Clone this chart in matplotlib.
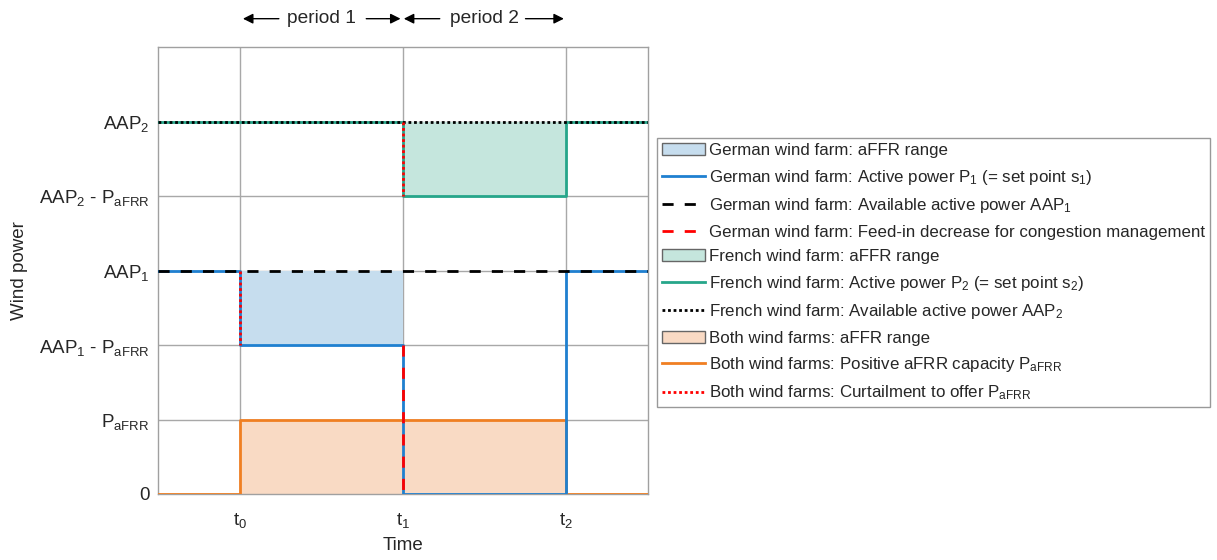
import matplotlib
matplotlib.use("Agg")
import matplotlib.pyplot as plt
from matplotlib.patches import Patch
from matplotlib.lines import Line2D

plt.rcParams['font.family'] = ['Liberation Sans', 'DejaVu Sans']
plt.rcParams['mathtext.fontset'] = 'custom'
plt.rcParams['mathtext.rm'] = 'Liberation Sans'
plt.rcParams['mathtext.it'] = 'Liberation Sans:italic'
plt.rcParams['mathtext.default'] = 'regular'

# ---- data ----
x_ticks = [1, 3, 5]
x_tick_labels = ['t$_0$', 't$_1$', 't$_2$']
y_ticks = [0, 1, 2, 3, 4, 5]
y_tick_labels = ['0', 'P$_{aFRR}$', 'AAP$_1$ - P$_{aFRR}$', 'AAP$_1$',
                 'AAP$_2$ - P$_{aFRR}$', 'AAP$_2$']

x_step = [0, 1, 1, 3, 3, 5, 5, 6]
p1_german = [3, 3, 2, 2, 0, 0, 3, 3]
aap1_german = [3, 3, 3, 3, 3, 3, 3, 3]
p2_french = [5, 5, 5, 5, 4, 4, 5, 5]
aap2_french = [5, 5, 5, 5, 5, 5, 5, 5]
p_afrr = [0, 0, 1, 1, 1, 1, 0, 0]

congestion_x = [3, 3]
congestion_y = [2, 0]
curtail1_x = [1, 1]
curtail1_y = [3, 2]
curtail2_x = [3, 3]
curtail2_y = [5, 4]

german_range_x = [1, 3]
german_range_lo = [2, 2]
german_range_hi = [3, 3]
french_range_x = [3, 5]
french_range_lo = [4, 4]
french_range_hi = [5, 5]
both_range_x = [1, 5]
both_range_lo = [0, 0]
both_range_hi = [1, 1]

legend_labels = [
    'German wind farm: aFFR range',
    'German wind farm: Active power P$_1$ (= set point s$_1$)',
    'German wind farm: Available active power AAP$_1$',
    'German wind farm: Feed-in decrease for congestion management',
    'French wind farm: aFFR range',
    'French wind farm: Active power P$_2$ (= set point s$_2$)',
    'French wind farm: Available active power AAP$_2$',
    'Both wind farms: aFFR range',
    'Both wind farms: Positive aFRR capacity P$_{aFRR}$',
    'Both wind farms: Curtailment to offer P$_{aFRR}$',
]

# ---- styles ----
c_blue = '#1f80d0'
c_green = '#26a68a'
c_orange = '#f07f22'
c_red = '#ff0000'
f_blue = '#c6ddee'
f_green = '#c5e6dd'
f_orange = '#f9dac4'
lw = 2.0

fig = plt.figure(figsize=(12.17, 5.6), dpi=100)
ax = fig.add_axes([158 / 1217, 1 - 494 / 560, (648 - 158) / 1217, (494 - 47) / 560])

ax.fill_between(german_range_x, german_range_lo, german_range_hi, color=f_blue, lw=0, zorder=1)
ax.fill_between(french_range_x, french_range_lo, french_range_hi, color=f_green, lw=0, zorder=1)
ax.fill_between(both_range_x, both_range_lo, both_range_hi, color=f_orange, lw=0, zorder=1)

ax.plot(x_step, p_afrr, color=c_orange, lw=lw, zorder=3)
ax.plot(x_step, p1_german, color=c_blue, lw=lw, zorder=4)
ax.plot(x_step, p2_french, color=c_green, lw=lw, zorder=4)
ax.plot(x_step, aap1_german, color='black', lw=lw, ls=(0, (4, 4)), zorder=5)
ax.plot(x_step, aap2_french, color='black', lw=lw, ls=(0, (1, 1)), zorder=5)
ax.plot(congestion_x, congestion_y, color=c_red, lw=lw, ls=(0, (4, 4)), zorder=6)
ax.plot(curtail1_x, curtail1_y, color=c_red, lw=lw, ls=(0, (1, 1)), zorder=6)
ax.plot(curtail2_x, curtail2_y, color=c_red, lw=lw, ls=(0, (1, 1)), zorder=6)

ax.set_xlim(0, 6)
ax.set_ylim(0, 6)
ax.set_xticks(x_ticks)
ax.set_xticklabels(x_tick_labels)
ax.set_yticks(y_ticks)
ax.set_yticklabels(y_tick_labels)
ax.tick_params(length=0, labelsize=13.5, colors='#262626')
ax.tick_params(axis='x', pad=12)
ax.tick_params(axis='y', pad=6)
ax.grid(True, color='#a8a8a8', lw=1.0, zorder=0)
ax.set_axisbelow(True)
for s in ax.spines.values():
    s.set_color('#a0a0a0')
    s.set_linewidth(1.0)
ax.set_xlabel('Time', fontsize=13.5, color='#262626', labelpad=5)
ax.set_ylabel('Wind power', fontsize=13.5, color='#262626', labelpad=8)

# period annotations
ya = 6.38
arrow_kw = dict(arrowstyle='-|>', color='black', lw=1.0, mutation_scale=15,
                shrinkA=0, shrinkB=0)
for tail, tip in [(1.48, 1.04), (2.55, 2.97), (3.45, 3.01), (4.50, 4.97)]:
    ax.annotate('', xy=(tip, ya), xytext=(tail, ya), arrowprops=arrow_kw,
                annotation_clip=False)
ax.text(2.0, ya, 'period 1', ha='center', va='center', fontsize=13.8, color='#262626')
ax.text(4.0, ya, 'period 2', ha='center', va='center', fontsize=13.8, color='#262626')

handles = [
    Patch(facecolor=f_blue, edgecolor='#666666'),
    Line2D([], [], color=c_blue, lw=lw),
    Line2D([], [], color='black', lw=lw, ls=(0, (4, 4))),
    Line2D([], [], color=c_red, lw=lw, ls=(0, (4, 4))),
    Patch(facecolor=f_green, edgecolor='#666666'),
    Line2D([], [], color=c_green, lw=lw),
    Line2D([], [], color='black', lw=lw, ls=(0, (1, 1))),
    Patch(facecolor=f_orange, edgecolor='#666666'),
    Line2D([], [], color=c_orange, lw=lw),
    Line2D([], [], color=c_red, lw=lw, ls=(0, (1, 1))),
]
leg = fig.legend(handles, legend_labels, loc='upper left',
                 bbox_to_anchor=(657 / 1217, 1 - 138 / 560),
                 bbox_transform=fig.transFigure, fontsize=12.2,
                 frameon=True, fancybox=False, framealpha=1,
                 edgecolor='#999999', handlelength=2.55, handletextpad=0.2,
                 labelspacing=0.56, borderpad=0.3, borderaxespad=0)
leg.get_frame().set_linewidth(1.0)
for t in leg.get_texts():
    t.set_color('#262626')

fig.savefig('out.png', dpi=100)
